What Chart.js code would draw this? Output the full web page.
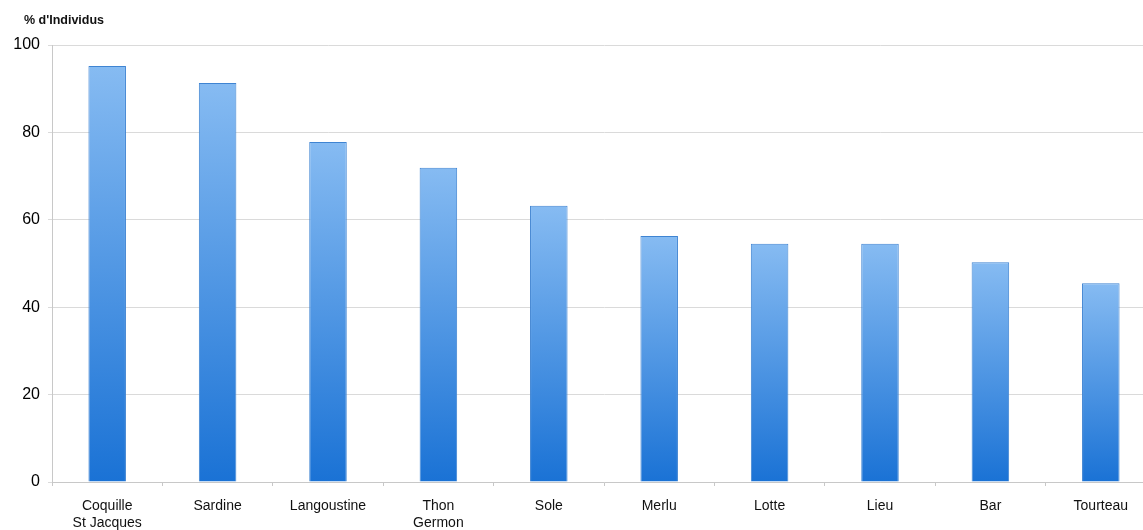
<!DOCTYPE html>
<html>
<head>
<meta charset="utf-8">
<script src="https://cdn.jsdelivr.net/npm/chart.js@4.4.1/dist/chart.umd.min.js"></script>
<style>
  html, body { margin: 0; padding: 0; background: #fff; overflow: hidden; }
  #wrap { width: 1158px; height: 530px; }
</style>
</head>
<body>
<div id="wrap"><canvas id="chart"></canvas></div>
<script>
const categories = [
  ['Coquille', 'St Jacques'], 'Sardine', 'Langoustine', ['Thon', 'Germon'], 'Sole',
  'Merlu', 'Lotte', 'Lieu', 'Bar', 'Tourteau'
];
const pctIndividus = [95.2, 91.3, 77.8, 71.9, 63.2, 56.3, 54.5, 54.5, 50.3, 45.5];
const yTicks = [0, 20, 40, 60, 80, 100];
const yTitle = "% d'Individus";

// titre de l'axe en haut à gauche
const axisTitle = {
  id: 'axisTitle',
  afterDraw(chart) {
    const ctx = chart.ctx;
    ctx.save();
    ctx.font = 'bold 12.5px "Liberation Sans", Arial, sans-serif';
    ctx.fillStyle = '#111';
    ctx.textBaseline = 'middle';
    ctx.fillText(yTitle, 24, 21);
    ctx.restore();
  }
};

// dégradé par barre, clair en haut, foncé en bas
function barGradient(context) {
  const chart = context.chart;
  const y = chart.scales.y;
  if (!y || !chart.chartArea) return '#4a90e2';
  const v = context.parsed ? context.parsed.y : pctIndividus[context.dataIndex];
  const top = y.getPixelForValue(v);
  const bottom = y.getPixelForValue(0);
  const g = chart.ctx.createLinearGradient(0, top, 0, bottom);
  g.addColorStop(0, '#86bbf2');
  g.addColorStop(1, '#1a72d5');
  return g;
}

new Chart(document.getElementById('chart'), {
  type: 'bar',
  data: {
    labels: categories,
    datasets: [{
      data: pctIndividus,
      backgroundColor: barGradient,
      borderColor: '#3f84d2',
      borderWidth: 1,
      barPercentage: 0.34,
      categoryPercentage: 1
    }]
  },
  plugins: [axisTitle],
  options: {
    responsive: true,
    maintainAspectRatio: false,
    animation: false,
    layout: { padding: { top: 45, right: 2, left: 0, bottom: 0 } },
    plugins: {
      legend: { display: false },
      tooltip: { enabled: false }
    },
    scales: {
      x: {
        afterFit(scale) { scale.height = 48; },
        grid: {
          offset: true,
          drawOnChartArea: false,
          drawTicks: true,
          tickLength: 4,
          color: '#c8c8c8'
        },
        border: { color: '#c8c8c8' },
        ticks: {
          padding: 12,
          color: '#111',
          maxRotation: 0,
          autoSkip: false,
          font: { family: '"Liberation Sans", Arial, sans-serif', size: 14 }
        }
      },
      y: {
        min: 0,
        max: 100,
        afterFit(scale) { scale.width = 52; },
        afterBuildTicks(scale) { scale.ticks = yTicks.map(v => ({ value: v })); },
        grid: {
          color: '#dadada',
          drawTicks: true,
          tickLength: 4
        },
        border: { color: '#c8c8c8' },
        ticks: {
          padding: 8,
          color: '#000',
          font: { family: '"Liberation Sans", Arial, sans-serif', size: 16 }
        }
      }
    }
  }
});
</script>
</body>
</html>
